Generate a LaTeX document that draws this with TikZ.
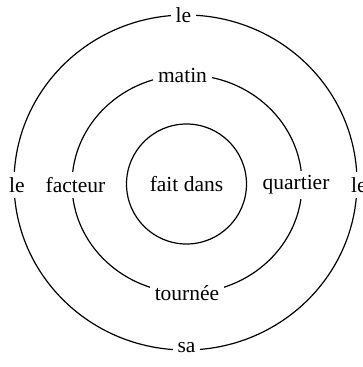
\documentclass[tikz,border=0pt]{standalone}
\usepackage{fontspec}
\setmainfont{Liberation Serif}
\usetikzlibrary{positioning}
\tikzset{
	ring/.style={draw=black, line width=1.2pt},
	word/.style={fill=white, inner sep=5pt, font=\fontsize{21.5}{25}\selectfont},
}

\begin{document}
\begin{tikzpicture}[x=1pt, y=-1pt]
	\useasboundingbox (0,0) rectangle (362,367);
	% three rings
	\draw[ring] (185.5,182.5) ellipse [x radius=171.5, y radius=167.5];
	\draw[ring] (187,184) ellipse [x radius=115, y radius=109];
	\draw[ring] (186.5,184) circle (60);
	% words on the rings
	\node[word] (outerTop)   at (183.5,15)  {le};
	\node[word] (outerLeft)  at (17,185)    {le};
	\node[word] (outerRight) at (359,185)   {le};
	\node[word] (outerBot)   at (186.5,348) {sa};
	\node[word] (midTop)     at (182.5,75)  {matin};
	\node[word] (midLeft)    at (75.5,185)  {facteur};
	\node[word] (midRight)   at (296,185)   {quartier};
	\node[word] (midBot)     at (187,293)   {tournée};
	\node[word, fill=none] (core) at (186.5,184) {fait dans};
\end{tikzpicture}
\end{document}
